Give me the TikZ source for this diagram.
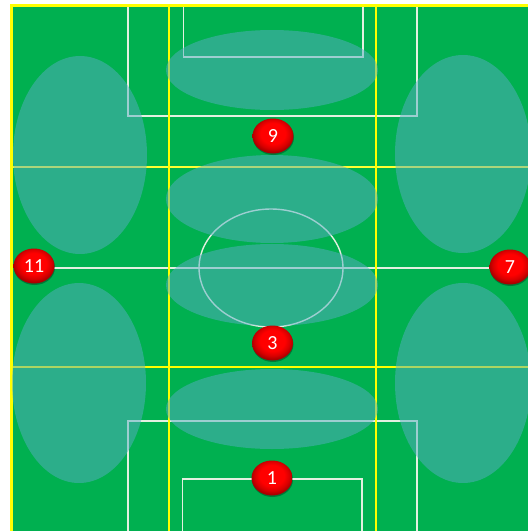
\documentclass[tikz,border=0pt]{standalone}
\usepackage{fontspec}
\setmainfont{Carlito}
\usetikzlibrary{shadows,shapes.geometric}
\definecolor{pitch}{HTML}{00B050}
\definecolor{zonefill}{HTML}{58AEC4}
\definecolor{yline}{HTML}{FFFF00}
\definecolor{paleline}{HTML}{E4F0E0}
\pgfdeclareradialshading{badgeshade}{\pgfpoint{0bp}{5bp}}{
  color(0bp)=(red!100!black);
  color(15bp)=(red!100!black);
  color(21bp)=(red!85!black);
  color(26bp)=(red!65!black);
  color(50bp)=(red!65!black)}
\tikzset{
  zone/.style={fill=zonefill,fill opacity=0.5,draw=none},
  pitchline/.style={draw=paleline,line width=1.4pt},
  yellowline/.style={draw=yline,line width=2.4pt},
  thinyellow/.style={draw=yline!80!white,line width=1.5pt},
  brightyellow/.style={draw=yline,line width=2pt},
  badge/.style={ellipse,minimum width=41pt,minimum height=35pt,inner sep=0pt,
    shading=badgeshade,draw=none,text=white,font=\fontsize{20}{20}\selectfont,
    drop shadow={shadow xshift=0.5pt,shadow yshift=-1.5pt,opacity=0.3,fill=black}},
}
\begin{document}
\begin{tikzpicture}[x=1pt,y=-1pt]
\useasboundingbox (0,0) rectangle (528,531);
\fill[white] (0,0) rectangle (528,531);
\fill[pitch] (11,5) rectangle (528,531);
% white pitch markings
\draw[pitchline] (128,5) -- (128,116) -- (417,116) -- (417,5);
\draw[pitchline] (183.5,5) -- (183.5,57) -- (363,57) -- (363,5);
\draw[pitchline] (128,531) -- (128,421) -- (417,421) -- (417,531);
\draw[pitchline] (182.5,531) -- (182.5,479) -- (362,479) -- (362,531);
\draw[pitchline] (14,268) -- (528,268);
\draw[pitchline] (271,268) ellipse [x radius=72,y radius=59];
% yellow grid
\draw[thinyellow] (11,167) -- (528,167);
\draw[brightyellow] (11,367) -- (528,367);
\draw[yellowline] (169,5) -- (169,531);
\draw[yellowline] (376,5) -- (376,531);
\draw[yline,line width=3pt] (528,5) -- (11.5,5) -- (11.5,531);
% zones
\fill[zone] (80,155) ellipse [x radius=67,y radius=99];
\fill[zone] (463,154) ellipse [x radius=68,y radius=99];
\fill[zone] (79,383) ellipse [x radius=67,y radius=100];
\fill[zone] (463,383) ellipse [x radius=68,y radius=100];
\fill[zone] (272,70) ellipse [x radius=106,y radius=40];
\fill[zone] (272,199) ellipse [x radius=106,y radius=44];
\fill[zone] (272,285) ellipse [x radius=106,y radius=41];
\fill[zone] (272,409) ellipse [x radius=106,y radius=40];
% players
\node[badge] (p9) at (273,136) {9};
\node[badge] (p3) at (272.5,343) {3};
\node[badge] (p1) at (272,478) {1};
\node[badge] (p11) at (34,266) {11};
\node[badge] (p7) at (510,267) {7};
\end{tikzpicture}
\end{document}
